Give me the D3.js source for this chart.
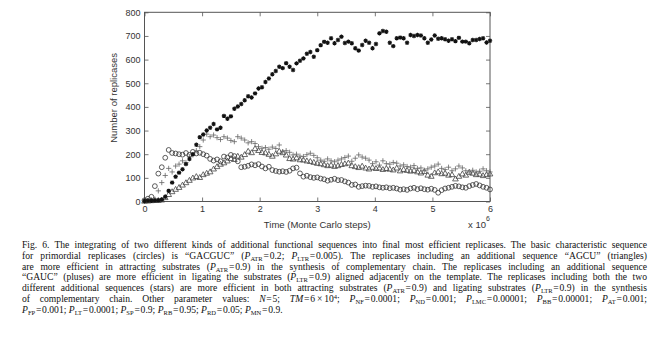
<!DOCTYPE html>
<html><head><meta charset="utf-8">
<script src="https://cdn.jsdelivr.net/npm/d3@7"></script>
<style>
html,body{margin:0;padding:0;background:#fff;}
svg{display:block;}
</style></head>
<body>
<svg id="chart" width="657" height="342"></svg>
<script>
// Time (x 10^6 Monte Carlo steps)
const times = [0,0.06,0.12,0.18,0.24,0.30,0.36,0.42,0.48,0.54,
  0.60,0.66,0.72,0.78,0.84,0.90,0.96,1.02,1.08,1.14,
  1.20,1.26,1.32,1.38,1.44,1.50,1.56,1.62,1.68,1.74,
  1.80,1.86,1.92,1.98,2.04,2.10,2.16,2.22,2.28,2.34,
  2.40,2.46,2.52,2.58,2.64,2.70,2.76,2.82,2.88,2.94,
  3.00,3.06,3.12,3.18,3.24,3.30,3.36,3.42,3.48,3.54,
  3.60,3.66,3.72,3.78,3.84,3.90,3.96,4.02,4.08,4.14,
  4.20,4.26,4.32,4.38,4.44,4.50,4.56,4.62,4.68,4.74,
  4.80,4.86,4.92,4.98,5.04,5.10,5.16,5.22,5.28,5.34,
  5.40,5.46,5.52,5.58,5.64,5.70,5.76,5.82,5.88,5.94,
  6.00];
// circles: basic sequence "GACGUC"
const circles = [5,12,20,65,118,145,185,218,205,203,
  200,198,205,197,210,203,206,200,194,180,
  173,178,170,190,186,197,192,170,145,147,
  151,157,153,158,148,140,147,133,129,126,
  128,125,130,140,143,119,105,109,103,100,
  102,97,94,88,92,96,90,91,85,80,
  70,72,62,65,67,66,62,64,60,58,
  60,56,58,55,50,52,49,55,58,52,
  56,52,50,54,49,37,48,55,58,62,
  66,64,60,58,65,70,74,68,62,58,
  51];
// triangles: additional sequence "AGCU"
const triangles = [0,1,2,3,3,5,15,28,40,50,
  58,68,78,88,98,104,100,112,118,124,
  136,146,156,162,170,180,176,190,186,197,
  211,205,222,214,206,204,198,190,200,211,
  205,195,180,178,183,175,174,170,168,164,
  160,158,154,150,152,147,150,155,158,161,
  150,146,142,148,140,136,143,138,140,134,
  138,135,132,140,128,134,130,127,130,124,
  119,125,110,105,120,124,116,118,110,112,
  94,105,115,110,122,118,112,114,108,112,
  115];
// pluses: additional sequence "GAUC"
const pluses = [1,3,5,10,45,80,110,140,125,150,
  158,172,165,190,197,215,232,260,285,274,
  281,270,262,274,268,258,253,274,268,260,
  248,253,245,232,225,228,221,230,224,239,
  211,215,208,197,200,192,190,198,204,195,
  185,175,170,180,172,168,175,180,186,192,
  170,183,197,188,183,175,160,168,154,172,
  160,158,165,162,150,155,148,145,152,140,
  142,132,138,145,150,158,140,135,145,130,
  138,150,142,130,125,132,125,128,138,130,
  125];
// stars: both additional sequences
const stars = [2,3,3,4,5,8,20,45,80,105,
  122,136,158,180,200,240,272,283,300,312,
  328,305,312,362,350,360,392,402,412,428,
  445,440,457,478,483,505,520,538,552,570,
  564,585,570,556,584,595,605,625,632,612,
  640,661,675,671,690,669,683,697,670,676,
  669,648,638,662,680,671,648,666,711,721,
  718,671,657,690,693,690,671,704,700,704,
  702,690,671,685,702,688,690,686,680,686,
  678,692,676,676,669,683,683,687,690,672,
  680];

const xTicks = [0,1,2,3,4,5,6];
const yTicks = [0,100,200,300,400,500,600,700,800];
const yTitle = "Number of replicases";
const xTitle = "Time (Monte Carlo steps)";
const xExponent = ["x 10", "6"];
const captionLines = [
  "Fig. 6. The integrating of two different kinds of additional functional sequences into final most efficient replicases. The basic characteristic sequence",
  "for primordial replicases (circles) is “GACGUC” (*P*_{ATR}=0.2; *P*_{LTR}=0.005). The replicases including an additional sequence “AGCU” (triangles)",
  "are more efficient in attracting substrates (*P*_{ATR}=0.9) in the synthesis of complementary chain. The replicases including an additional sequence",
  "“GAUC” (pluses) are more efficient in ligating the substrates (*P*_{LTR}=0.9) aligned adjacently on the template. The replicases including both the two",
  "different additional sequences (stars) are more efficient in both attracting substrates (*P*_{ATR}=0.9) and ligating substrates (*P*_{LTR}=0.9) in the synthesis",
  "of complementary chain. Other parameter values: *N*=5; *TM*=6×10^{4}; *P*_{NF}=0.0001; *P*_{ND}=0.001; *P*_{LMC}=0.00001; *P*_{BB}=0.00001; *P*_{AT}=0.001;",
  "*P*_{FP}=0.001; *P*_{LT}=0.0001; *P*_{SP}=0.9; *P*_{RB}=0.95; *P*_{RD}=0.05; *P*_{MN}=0.9."
];

const svg = d3.select("#chart");
const x = d3.scaleLinear().domain([0, 6]).range([144.5, 490]);
const y = d3.scaleLinear().domain([0, 800]).range([201.5, 12.3]);
const axisColor = "#555";
const labelColor = "#333";

svg.append("rect").attr("width", 657).attr("height", 342).attr("fill", "#fff");

// box
svg.append("rect")
  .attr("x", x(0)).attr("y", y(800))
  .attr("width", x(6) - x(0)).attr("height", y(0) - y(800))
  .attr("fill", "none").attr("stroke", axisColor).attr("stroke-width", 1);

function styleAxis(g) {
  g.select(".domain").remove();
  g.selectAll(".tick line").attr("stroke", axisColor).attr("stroke-width", 0.8);
  g.selectAll(".tick text").attr("fill", labelColor)
    .style("font-family", "'Liberation Sans', Arial, sans-serif").style("font-size", "9px");
}

svg.append("g").attr("transform", `translate(0,${y(0)})`)
  .call(d3.axisBottom(x).tickValues(xTicks).tickSizeInner(-4).tickSizeOuter(0).tickPadding(4).tickFormat(d3.format("d")))
  .call(styleAxis);
svg.append("g").attr("transform", `translate(0,${y(800)})`)
  .call(d3.axisTop(x).tickValues(xTicks).tickSizeInner(-4).tickSizeOuter(0).tickFormat(""))
  .call(styleAxis);
svg.append("g").attr("transform", `translate(${x(0)},0)`)
  .call(d3.axisLeft(y).tickValues(yTicks).tickSizeInner(-4).tickSizeOuter(0).tickPadding(4).tickFormat(d3.format("d")))
  .call(styleAxis);
svg.append("g").attr("transform", `translate(${x(6)},0)`)
  .call(d3.axisRight(y).tickValues(yTicks).tickSizeInner(-4).tickSizeOuter(0).tickFormat(""))
  .call(styleAxis);

// titles
svg.append("text")
  .attr("x", (x(0) + x(6)) / 2).attr("y", 228)
  .attr("text-anchor", "middle").attr("fill", labelColor)
  .style("font-family", "'Liberation Sans', Arial, sans-serif").style("font-size", "9.5px")
  .text(xTitle);
svg.append("text")
  .attr("transform", `translate(117,${(y(0) + y(800)) / 2 - 9}) rotate(-90)`)
  .attr("text-anchor", "middle").attr("fill", labelColor)
  .style("font-family", "'Liberation Sans', Arial, sans-serif").style("font-size", "9.5px")
  .text(yTitle);
const ex = svg.append("text").attr("x", 468).attr("y", 228).attr("fill", labelColor)
  .style("font-family", "'Liberation Sans', Arial, sans-serif").style("font-size", "9.5px");
ex.append("tspan").text(xExponent[0]);
ex.append("tspan").attr("dy", -7).style("font-size", "7px").text(xExponent[1]);

// data
const plot = svg.append("g");
const pts = (vals) => times.map((t, i) => ({t, v: vals[i]}));

plot.append("g").selectAll("circle").data(pts(circles)).join("circle")
  .attr("cx", d => x(d.t)).attr("cy", d => y(d.v)).attr("r", 2.4)
  .attr("fill", "none").attr("stroke", "#333").attr("stroke-width", 0.8);

const tri = d3.symbol(d3.symbolTriangle, 14);
plot.append("g").selectAll("path").data(pts(triangles)).join("path")
  .attr("d", tri).attr("transform", d => `translate(${x(d.t)},${y(d.v)})`)
  .attr("fill", "none").attr("stroke", "#444").attr("stroke-width", 0.8);

plot.append("g").selectAll("path").data(pts(pluses)).join("path")
  .attr("d", "M-2.6,0H2.6M0,-2.6V2.6").attr("transform", d => `translate(${x(d.t)},${y(d.v)})`)
  .attr("fill", "none").attr("stroke", "#666").attr("stroke-width", 0.8);

plot.append("g").selectAll("path").data(pts(stars)).join("path")
  .attr("d", "M-2.2,0H2.2M0,-2.2V2.2M-1.6,-1.6L1.6,1.6M-1.6,1.6L1.6,-1.6")
  .attr("transform", d => `translate(${x(d.t)},${y(d.v)})`)
  .attr("fill", "none").attr("stroke", "#111").attr("stroke-width", 1.1);

// caption
const capX = 22, capRight = 647, capY0 = 248, capDy = 10.8;
const tokenRe = /\*([^*]+)\*|_\{([^}]+)\}|\^\{([^}]+)\}|([^*_^]+)/g;
captionLines.forEach((line, li) => {
  const t = svg.append("text").attr("x", capX).attr("y", capY0 + li * capDy)
    .attr("fill", "#111")
    .style("font-family", "'Liberation Serif', 'Times New Roman', serif").style("font-size", "9.6px");
  let shift = 0, m, spaces = 0;
  tokenRe.lastIndex = 0;
  while ((m = tokenRe.exec(line)) !== null) {
    let txt, style = "n", target = 0;
    if (m[1]) { txt = m[1]; style = "i"; }
    else if (m[2]) { txt = m[2]; style = "sub"; target = 2; }
    else if (m[3]) { txt = m[3]; style = "sup"; target = -3.5; }
    else { txt = m[4]; }
    txt = txt.replace(/=/g, "\u200A=\u200A").replace(/×/g, "\u2009×\u2009");
    spaces += (txt.match(/ /g) || []).length;
    const ts = t.append("tspan").text(txt);
    if (target !== shift) { ts.attr("dy", target - shift); shift = target; }
    if (style === "i") ts.style("font-style", "italic");
    if (style === "sub" || style === "sup") ts.style("font-size", "6.5px");
  }
  if (li < captionLines.length - 1 && spaces > 0) {
    const natural = t.node().getComputedTextLength();
    const ws = (capRight - capX - natural) / spaces;
    t.style("word-spacing", ws + "px");
  }
});
</script>
</body></html>
